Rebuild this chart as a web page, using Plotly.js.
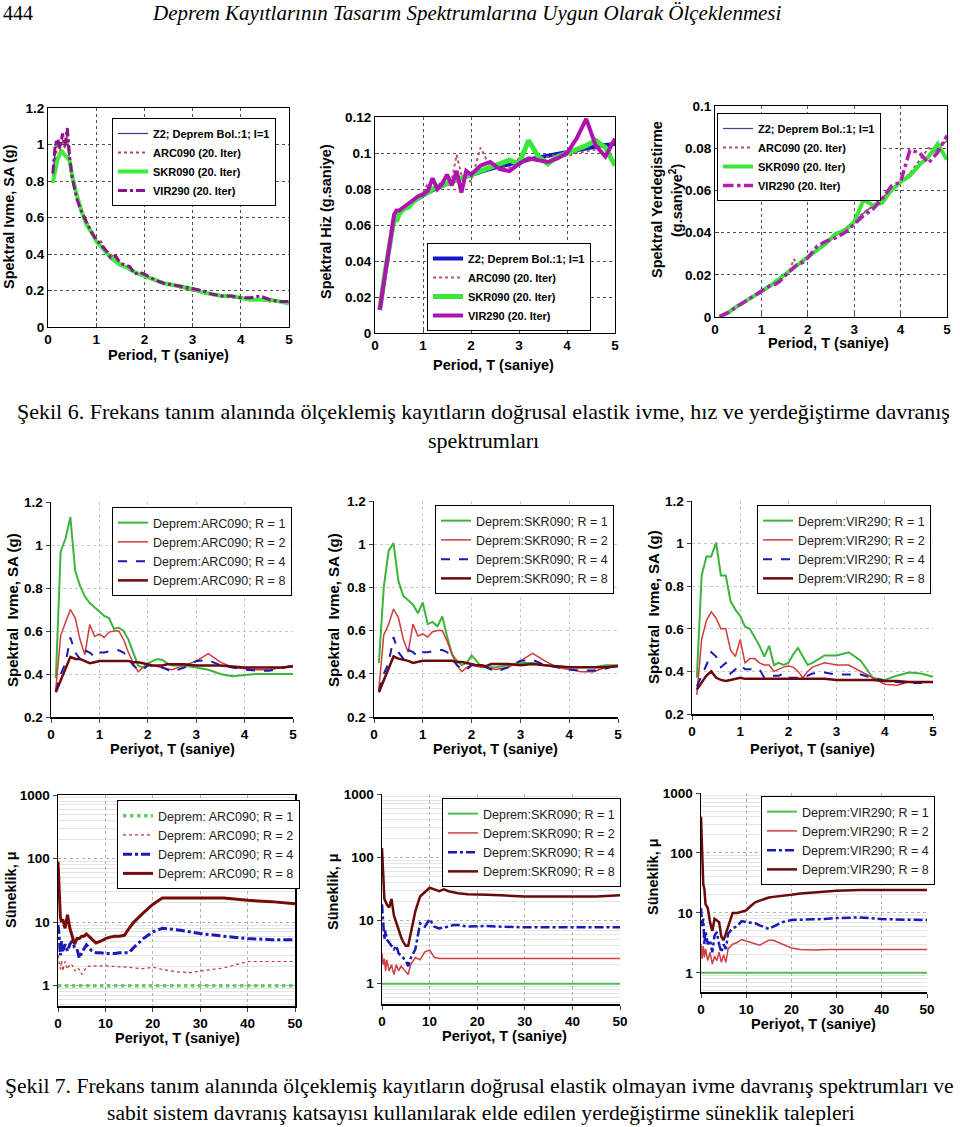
<!DOCTYPE html>
<html><head><meta charset="utf-8">
<script src="https://cdn.plot.ly/plotly-3.0.1.min.js"></script>
<style>html,body{margin:0;padding:0;background:#fff}#chart{width:960px;height:1127px}</style>
</head><body><div id="chart"></div>
<script>
// ---------------- DATA ----------------
// Row 1: elastic spectra (Şekil 6)
const T_Z2 = [0.1,0.15,0.2,0.25,0.3,0.35,0.4,0.45,0.5,0.6,0.7,0.8,0.9,1.0,1.2,1.4,1.6,1.8,2.0,2.25,2.5,2.75,3.0,3.25,3.5,3.75,4.0,4.25,4.5,4.75,5.0];
const SA_Z2 = [0.80,1.00,1.00,1.00,1.00,1.00,1.00,0.910,0.837,0.723,0.639,0.574,0.523,0.480,0.415,0.367,0.330,0.300,0.276,0.251,0.231,0.214,0.199,0.187,0.176,0.167,0.158,0.151,0.144,0.138,0.132];
const SV_Z2 = [0.0127,0.0239,0.0318,0.0398,0.0477,0.0557,0.0637,0.0652,0.0666,0.0690,0.0712,0.0731,0.0749,0.0764,0.0793,0.0818,0.0840,0.0859,0.0879,0.0899,0.0919,0.0937,0.0950,0.0967,0.0980,0.0997,0.1006,0.1021,0.1031,0.1043,0.1050];
const SD_Z2 = [0.0002,0.0006,0.0010,0.0016,0.0023,0.0031,0.0041,0.0047,0.0053,0.0066,0.0079,0.0093,0.0107,0.0122,0.0151,0.0182,0.0214,0.0246,0.0280,0.0322,0.0366,0.0410,0.0454,0.0500,0.0546,0.0595,0.0640,0.0691,0.0739,0.0789,0.0836];

const T1 = [0.1,0.15,0.2,0.25,0.3,0.35,0.4,0.45,0.5,0.6,0.7,0.8,0.9,1.0,1.1,1.2,1.3,1.4,1.5,1.6,1.7,1.8,1.9,2.0,2.2,2.4,2.6,2.8,3.0,3.2,3.4,3.6,3.8,4.0,4.2,4.4,4.6,4.8,5.0];
const SA_ARC = [0.82,0.90,1.02,0.96,1.04,0.98,1.06,0.90,0.83,0.72,0.64,0.58,0.52,0.48,0.47,0.42,0.40,0.36,0.35,0.33,0.31,0.30,0.29,0.27,0.26,0.24,0.23,0.21,0.20,0.19,0.18,0.17,0.16,0.16,0.15,0.15,0.14,0.14,0.13];
const SA_SKR = [0.79,0.86,0.92,0.95,0.96,0.94,0.93,0.91,0.83,0.72,0.63,0.56,0.52,0.47,0.44,0.41,0.38,0.36,0.34,0.33,0.32,0.30,0.29,0.28,0.26,0.24,0.23,0.22,0.21,0.19,0.18,0.17,0.17,0.16,0.15,0.15,0.15,0.14,0.13];
const SA_VIR = [0.84,1.00,1.03,0.98,1.06,0.99,1.09,0.93,0.82,0.70,0.63,0.57,0.52,0.48,0.45,0.42,0.38,0.39,0.35,0.34,0.33,0.29,0.30,0.29,0.26,0.24,0.23,0.22,0.21,0.20,0.18,0.17,0.17,0.16,0.16,0.17,0.15,0.14,0.14];
const SV_ARC = [0.013,0.024,0.032,0.040,0.047,0.056,0.064,0.066,0.067,0.070,0.072,0.074,0.075,0.078,0.083,0.080,0.082,0.084,0.086,0.085,0.099,0.088,0.086,0.084,0.103,0.092,0.092,0.092,0.097,0.096,0.096,0.098,0.099,0.098,0.100,0.101,0.102,0.104,0.106];
const SV_SKR = [0.013,0.024,0.032,0.040,0.047,0.055,0.064,0.062,0.066,0.069,0.070,0.073,0.075,0.077,0.078,0.080,0.081,0.082,0.083,0.084,0.085,0.086,0.087,0.088,0.090,0.092,0.094,0.096,0.094,0.107,0.098,0.094,0.098,0.100,0.102,0.104,0.107,0.103,0.093];
const SV_VIR = [0.013,0.022,0.032,0.041,0.050,0.058,0.066,0.068,0.068,0.070,0.072,0.074,0.076,0.077,0.079,0.086,0.080,0.083,0.088,0.082,0.090,0.078,0.090,0.088,0.093,0.095,0.091,0.090,0.094,0.097,0.096,0.095,0.097,0.100,0.108,0.119,0.104,0.098,0.108];
const SD_ARC = [0.0002,0.0006,0.0010,0.0016,0.0023,0.0031,0.0042,0.0047,0.0053,0.0066,0.0080,0.0093,0.0107,0.0122,0.0137,0.0152,0.0166,0.0182,0.0199,0.0215,0.0275,0.0240,0.0258,0.0290,0.0310,0.0355,0.0385,0.0420,0.0450,0.0495,0.0525,0.0560,0.0600,0.0640,0.0680,0.0740,0.0800,0.0790,0.0850];
const SD_SKR = [0.0002,0.0006,0.0010,0.0016,0.0023,0.0031,0.0041,0.0047,0.0053,0.0066,0.0079,0.0093,0.0107,0.0121,0.0136,0.0150,0.0166,0.0182,0.0198,0.0214,0.0232,0.0250,0.0268,0.0285,0.0315,0.0350,0.0395,0.0410,0.0450,0.0555,0.0530,0.0540,0.0600,0.0640,0.0670,0.0720,0.0760,0.0820,0.0745];
const SD_VIR = [0.0002,0.0006,0.0011,0.0017,0.0024,0.0032,0.0043,0.0048,0.0054,0.0067,0.0080,0.0094,0.0108,0.0123,0.0136,0.0150,0.0155,0.0170,0.0195,0.0215,0.0235,0.0255,0.0260,0.0280,0.0335,0.0360,0.0375,0.0400,0.0440,0.0480,0.0510,0.0560,0.0620,0.0640,0.0790,0.0780,0.0730,0.0780,0.0860];

// Row 2: inelastic acceleration spectra (Şekil 7)
const T2 = [0.1,0.2,0.3,0.4,0.5,0.6,0.7,0.8,0.9,1.0,1.1,1.2,1.3,1.4,1.5,1.6,1.7,1.8,1.9,2.0,2.1,2.2,2.3,2.4,2.5,2.75,3.0,3.25,3.5,3.75,4.0,4.25,4.5,4.75,5.0];
const ARC_R1 = [0.38,0.97,1.03,1.13,0.88,0.81,0.76,0.73,0.71,0.69,0.67,0.66,0.61,0.615,0.60,0.56,0.50,0.44,0.43,0.45,0.46,0.47,0.465,0.45,0.44,0.44,0.43,0.42,0.40,0.39,0.395,0.40,0.40,0.40,0.40];
const ARC_R2 = [0.33,0.58,0.64,0.70,0.66,0.56,0.49,0.63,0.575,0.585,0.57,0.595,0.60,0.60,0.56,0.50,0.45,0.41,0.43,0.44,0.44,0.435,0.43,0.425,0.42,0.44,0.46,0.495,0.455,0.43,0.425,0.42,0.42,0.43,0.44];
const ARC_R4 = [0.32,0.40,0.45,0.57,0.50,0.47,0.51,0.50,0.48,0.50,0.50,0.505,0.51,0.51,0.50,0.47,0.44,0.42,0.42,0.44,0.44,0.435,0.43,0.42,0.41,0.43,0.46,0.465,0.44,0.43,0.42,0.415,0.415,0.425,0.44];
const ARC_R8 = [0.315,0.37,0.42,0.48,0.47,0.47,0.46,0.45,0.455,0.46,0.46,0.46,0.46,0.46,0.46,0.46,0.455,0.455,0.45,0.445,0.44,0.44,0.44,0.445,0.445,0.445,0.44,0.44,0.44,0.435,0.43,0.43,0.43,0.43,0.435];
const SKR_R1 = [0.45,0.80,0.97,1.005,0.83,0.76,0.74,0.72,0.68,0.73,0.63,0.64,0.62,0.665,0.57,0.49,0.46,0.44,0.45,0.485,0.46,0.43,0.43,0.43,0.43,0.44,0.45,0.45,0.44,0.435,0.43,0.43,0.43,0.44,0.44];
const SKR_R2 = [0.33,0.58,0.63,0.70,0.66,0.56,0.50,0.63,0.575,0.585,0.57,0.595,0.60,0.60,0.55,0.49,0.44,0.41,0.43,0.44,0.435,0.43,0.43,0.425,0.42,0.43,0.46,0.495,0.46,0.43,0.42,0.41,0.41,0.43,0.44];
const SKR_R4 = [0.32,0.40,0.45,0.57,0.50,0.47,0.51,0.50,0.48,0.50,0.50,0.505,0.51,0.51,0.50,0.47,0.44,0.42,0.42,0.44,0.44,0.435,0.43,0.42,0.41,0.43,0.46,0.465,0.44,0.43,0.42,0.415,0.415,0.425,0.44];
const SKR_R8 = [0.315,0.37,0.42,0.48,0.47,0.465,0.46,0.45,0.455,0.46,0.46,0.46,0.46,0.46,0.46,0.46,0.455,0.455,0.45,0.445,0.44,0.44,0.435,0.445,0.445,0.445,0.44,0.445,0.44,0.435,0.43,0.43,0.43,0.43,0.435];
const VIR_R1 = [0.37,0.85,0.94,0.94,1.005,0.85,0.85,0.73,0.69,0.66,0.61,0.60,0.56,0.52,0.47,0.52,0.43,0.44,0.43,0.44,0.48,0.51,0.47,0.43,0.44,0.475,0.475,0.49,0.45,0.37,0.36,0.38,0.395,0.39,0.375];
const VIR_R2 = [0.29,0.55,0.64,0.68,0.65,0.60,0.60,0.50,0.47,0.55,0.44,0.46,0.46,0.44,0.43,0.43,0.40,0.41,0.42,0.425,0.42,0.40,0.37,0.40,0.42,0.44,0.43,0.43,0.40,0.37,0.34,0.335,0.35,0.35,0.35];
const VIR_R4 = [0.33,0.38,0.43,0.49,0.47,0.42,0.44,0.39,0.41,0.43,0.41,0.41,0.41,0.41,0.37,0.38,0.38,0.38,0.39,0.37,0.37,0.37,0.37,0.38,0.39,0.395,0.385,0.385,0.385,0.37,0.355,0.35,0.345,0.345,0.35];
const VIR_R8 = [0.315,0.35,0.38,0.40,0.37,0.36,0.355,0.36,0.365,0.37,0.365,0.365,0.365,0.365,0.365,0.365,0.365,0.365,0.365,0.365,0.365,0.365,0.365,0.365,0.365,0.365,0.36,0.36,0.36,0.36,0.355,0.355,0.35,0.35,0.35];

// Row 3: ductility demands
const T3 = [0,0.25,0.5,0.75,1,1.5,2,2.5,3,3.5,4,4.5,5,5.5,6,7,8,9,10,11,12,13,14,15,16,18,20,22,25,28,30,35,40,45,50];
const T3_R1 = [0,50];
const MU_R1 = [1,1];
const MU_ARC_R2 = [3.0,2.2,1.8,2.5,1.7,2.4,1.8,2.2,2.1,1.7,1.9,1.8,1.5,1.7,2.0,2.05,2.05,2.1,2.1,2.05,2.0,2.0,1.95,1.95,1.9,1.85,1.95,1.8,1.65,1.6,1.7,1.9,2.4,2.4,2.4];
const MU_ARC_R4 = [9,6,3,5,3.5,4.5,3.5,4.5,5,4,3.8,2.7,3.3,3.8,4.4,3.6,3.3,3.3,3.2,3.2,3.2,3.3,3.3,3.3,4,5.5,7,8,7.6,7,6.6,6,5.5,5.3,5.3];
const MU_ARC_R8 = [90,25,12,10,11,8,13,8,6,4.5,5.5,5.5,6,6,6.5,5.5,4.7,5,5.5,5.8,6,6,6.2,8,10,14,19,24,24,24,24,24,22,21,19.5];
const MU_SKR_R2 = [3.0,2.0,2.5,1.6,2.4,1.6,2.0,1.4,2.0,1.6,1.9,1.7,1.5,1.4,2.0,2.6,2.4,3.2,3.4,2.6,2.5,2.5,2.5,2.5,2.5,2.5,2.5,2.5,2.5,2.5,2.5,2.5,2.5,2.5,2.5];
const MU_SKR_R4 = [18,8,5,7,5,4.5,4,3.5,4,3,2.8,2.5,2.3,1.9,2.5,3.5,9,8,10.5,8,7.5,7.8,8,8.5,8.5,8,8.2,8.2,8,7.8,7.8,7.8,7.8,7.8,7.8];
const MU_SKR_R8 = [140,40,22,20,18,16,22,12,9,7,5.5,4.5,4,4,6,14,24,28,33,31,29,31,29,28,27,26,26,25.5,25,24,24,24,24,24,25];
const MU_VIR_R2 = [3,1.7,2.8,1.8,2.5,1.6,2.2,1.4,1.9,1.6,2.2,1.5,2.0,1.5,2.5,3.0,3.2,3.6,3.4,3.2,3.0,2.9,3.2,3.5,3.5,3.0,2.6,2.45,2.4,2.45,2.45,2.45,2.45,2.45,2.45];
const MU_VIR_R4 = [12,6,8,3,5,3,3.5,2.2,4.2,4.8,3,2.2,3,2.5,4.5,5.5,6,7.3,7,6.8,6.7,6.2,5.8,5.4,5.9,7,7.6,7.6,7.8,8,8.2,8.4,7.9,7.7,7.6];
const MU_VIR_R8 = [400,60,30,25,14,12,7,5,8,7.5,7,4,3.5,4.5,6,10,10,10.5,11,13,15,16,17,18,18.5,19,20,21,22,23,23.5,24,24,24,24];

// ---------------- LAYOUT HELPERS ----------------
const W = 960, H = 1127;
const FONT = 'Liberation Sans, Arial, sans-serif';
const SERIF = 'Liberation Serif, Times New Roman, serif';
const fx = p => p / W;
const fy = p => 1 - p / H;
// plot boxes in pixels [left, right, top, bottom]
const BOX = [
  [48,289,108,327],[375,615,117,333],[715,947,106,317],
  [51,293,502,717],[374,618,501,717],[692,933,501,714],
  [58,295,795,1006],[382,620,794,1004],[701,927,793,992]
];

const traces = [];
function addLine(i, x, y, name, color, width, dash) {
  traces.push({
    type: 'scatter', mode: 'lines', x: x, y: y, name: name,
    xaxis: i === 1 ? 'x' : 'x' + i, yaxis: i === 1 ? 'y' : 'y' + i,
    legend: i === 1 ? 'legend' : 'legend' + i,
    line: {color: color, width: width, dash: dash || 'solid'},
    hoverinfo: 'skip'
  });
}

// Row 1
addLine(1, T_Z2, SA_Z2, 'Z2; Deprem Bol.:1; I=1', '#3a3a8c', 1.2);
addLine(1, T1, SA_ARC, 'ARC090 (20. Iter)', '#b04848', 2, 'dot');
addLine(1, T1, SA_SKR, 'SKR090 (20. Iter)', '#3bee3b', 4);
addLine(1, T1, SA_VIR, 'VIR290 (20. Iter)', '#8a128a', 3, 'dashdot');

addLine(2, T_Z2, SV_Z2, 'Z2; Deprem Bol.:1; I=1', '#1414c8', 4);
addLine(2, T1, SV_ARC, 'ARC090 (20. Iter)', '#b05a5a', 2, 'dot');
addLine(2, T1, SV_SKR, 'SKR090 (20. Iter)', '#3be63b', 5);
addLine(2, T1, SV_VIR, 'VIR290 (20. Iter)', '#b012b0', 4);

addLine(3, T_Z2, SD_Z2, 'Z2; Deprem Bol.:1; I=1', '#44447a', 1.2);
addLine(3, T1, SD_ARC, 'ARC090 (20. Iter)', '#b05050', 2, 'dot');
addLine(3, T1, SD_SKR, 'SKR090 (20. Iter)', '#3be63b', 4);
addLine(3, T1, SD_VIR, 'VIR290 (20. Iter)', '#b020b0', 3.5, 'dashdot');

// Row 2
const ROW2 = [
  [4, 'ARC090', ARC_R1, ARC_R2, ARC_R4, ARC_R8],
  [5, 'SKR090', SKR_R1, SKR_R2, SKR_R4, SKR_R8],
  [6, 'VIR290', VIR_R1, VIR_R2, VIR_R4, VIR_R8]
];
ROW2.forEach(([i, eq, r1, r2, r4, r8]) => {
  addLine(i, T2, r1, 'Deprem:' + eq + '; R = 1', '#3cb43c', 2);
  addLine(i, T2, r2, 'Deprem:' + eq + '; R = 2', '#d03c3c', 1.5);
  addLine(i, T2, r4, 'Deprem:' + eq + '; R = 4', '#1a1ab4', 2, 'dash');
  addLine(i, T2, r8, 'Deprem:' + eq + '; R = 8', '#6a0a0a', 2.5);
});

// Row 3
addLine(7, T3_R1, MU_R1, 'Deprem: ARC090; R = 1', '#66cc66', 3.5, 'dot');
addLine(7, T3, MU_ARC_R2, 'Deprem: ARC090; R = 2', '#c83232', 1.2, 'dot');
addLine(7, T3, MU_ARC_R4, 'Deprem: ARC090; R = 4', '#1a1ab4', 3, 'dashdot');
addLine(7, T3, MU_ARC_R8, 'Deprem: ARC090; R = 8', '#780a0a', 3);
const ROW3 = [
  [8, 'SKR090', MU_SKR_R2, MU_SKR_R4, MU_SKR_R8],
  [9, 'VIR290', MU_VIR_R2, MU_VIR_R4, MU_VIR_R8]
];
ROW3.forEach(([i, eq, r2, r4, r8]) => {
  addLine(i, T3_R1, MU_R1, 'Deprem:' + eq + '; R = 1', '#4cc04c', 2);
  addLine(i, T3, r2, 'Deprem:' + eq + '; R = 2', '#d04040', 1.5);
  addLine(i, T3, r4, 'Deprem:' + eq + '; R = 4', '#1a1ab4', 2.5, 'dashdot');
  addLine(i, T3, r8, 'Deprem:' + eq + '; R = 8', '#6a0a0a', 2.5);
});

// ---------------- AXES ----------------
const layout = {
  width: W, height: H, margin: {l: 0, r: 0, t: 0, b: 0},
  paper_bgcolor: '#fff', plot_bgcolor: '#fff', showlegend: true,
  font: {family: FONT, color: '#000'},
  annotations: [], shapes: []
};
const tickFont = {family: FONT, size: 13.5, color: '#000', weight: 'bold'};
function axes(i, xo, yo) {
  const b = BOX[i - 1];
  const xk = i === 1 ? 'xaxis' : 'xaxis' + i;
  const yk = i === 1 ? 'yaxis' : 'yaxis' + i;
  layout[xk] = Object.assign({
    domain: [fx(b[0]), fx(b[1])], anchor: i === 1 ? 'y' : 'y' + i,
    zeroline: false, showline: true, linecolor: '#000', tickfont: tickFont,
    fixedrange: true
  }, xo);
  layout[yk] = Object.assign({
    domain: [fy(b[3]), fy(b[2])], anchor: i === 1 ? 'x' : 'x' + i,
    zeroline: false, showline: true, linecolor: '#000', tickfont: tickFont,
    fixedrange: true
  }, yo);
}
const r1x = {range: [0, 5], dtick: 1, mirror: true, ticks: 'inside', ticklen: 4, gridcolor: '#555', griddash: 'dot', linewidth: 1};
axes(1, r1x, {range: [0, 1.2], dtick: 0.2, mirror: true, ticks: 'inside', ticklen: 4, gridcolor: '#555', griddash: 'dot'});
axes(2, r1x, {range: [0, 0.12], dtick: 0.02, mirror: true, ticks: 'inside', ticklen: 4, gridcolor: '#555', griddash: 'dot'});
axes(3, r1x, {range: [0, 0.1], dtick: 0.02, mirror: true, ticks: 'inside', ticklen: 4, gridcolor: '#555', griddash: 'dot'});
const r2x = {range: [0, 5], dtick: 1, ticks: 'outside', ticklen: 4, gridcolor: '#c8c8c8', griddash: 'dot', linewidth: 1.5};
const r2y = {range: [0.2, 1.2], dtick: 0.2, ticks: 'outside', ticklen: 4, gridcolor: '#c8c8c8', griddash: 'dot', linewidth: 1.5};
[4, 5, 6].forEach(i => axes(i, r2x, r2y));
const MINOR_LOG = [0.5,0.6,0.7,0.8,0.9,2,3,4,5,6,7,8,9,20,30,40,50,60,70,80,90,200,300,400,500,600,700,800,900];
const r3x = {range: [0, 50], dtick: 10, ticks: 'outside', ticklen: 4, gridcolor: '#b0b0b0', griddash: 'dot', linewidth: 1.5};
const r3y = {type: 'log', range: [-0.32, 3], tickmode: 'array', tickvals: [1, 10, 100, 1000], ticktext: ['1', '10', '100', '1000'],
  ticks: 'outside', ticklen: 4, gridcolor: '#b0b0b0', griddash: 'dot', linewidth: 1.5,
  minor: {tickmode: 'array', tickvals: MINOR_LOG, showgrid: true, gridcolor: '#e4e4e4', griddash: 'solid', gridwidth: 1, ticks: ''}};
axes(7, Object.assign({}, r3x, {mirror: true}), Object.assign({}, r3y, {mirror: true}));
axes(8, r3x, r3y);
axes(9, r3x, r3y);

// ---------------- LEGENDS ----------------
const LEG = [[112,118],[427,243],[717,113],[112,507],[435,505],[757,505],[117,800],[442,798],[761,796]];
LEG.forEach((p, k) => {
  const i = k + 1;
  layout[i === 1 ? 'legend' : 'legend' + i] = {
    x: fx(p[0]), y: fy(p[1]), xanchor: 'left', yanchor: 'top',
    xref: 'paper', yref: 'paper',
    bgcolor: '#fff', bordercolor: '#000', borderwidth: 1,
    font: i <= 3 ? {family: FONT, size: 11, color: '#000', weight: 'bold'} : {family: FONT, size: 12.5, color: '#222'},
    tracegroupgap: 0
  };
});

// ---------------- TEXT ----------------
function txt(text, x, y, size, opts) {
  layout.annotations.push(Object.assign({
    text: text, x: fx(x), y: fy(y), xref: 'paper', yref: 'paper',
    showarrow: false, xanchor: 'center', yanchor: 'middle',
    font: {family: FONT, size: size, color: '#000', weight: 'bold'}
  }, opts || {}));
}
const serif = (s, it) => ({family: SERIF, size: s, color: '#000', style: it ? 'italic' : 'normal', weight: 'normal'});
// header & captions
txt('444', 1, 13, 20, {xanchor: 'left', font: serif(20)});
txt('Deprem Kayıtlarının Tasarım Spektrumlarına Uygun Olarak Ölçeklenmesi', 467, 13, 21, {font: serif(21, true)});
txt('Şekil 6. Frekans tanım alanında ölçeklemiş kayıtların doğrusal elastik ivme, hız ve yerdeğiştirme davranış', 483, 411, 22, {font: serif(22)});
txt('spektrumları', 483, 441, 22, {font: serif(22)});
txt('Şekil 7. Frekans tanım alanında ölçeklemiş kayıtların doğrusal elastik olmayan ivme davranış spektrumları ve', 479, 1086, 21.6, {font: serif(21.6)});
txt('sabit sistem davranış katsayısı kullanılarak elde edilen yerdeğiştirme süneklik talepleri', 481, 1113, 21.6, {font: serif(21.6)});

// axis titles
const rot = {textangle: -90};
const NB = '\u00a0';
txt('Spektral Ivme, SA (g)', 9, 217, 14.5, rot);
txt('Period, T (saniye)', 168, 355, 14.5);
txt('Spektral Hiz (g.saniye)', 326, 222, 14.5, rot);
txt('Period, T (saniye)', 493, 365, 14.5);
txt('Spektral Yerdegistirme', 657, 200, 14.5, rot);
txt('(g.saniye<sup>2</sup>)', 676, 200, 14.5, rot);
txt('Period, T (saniye)', 828, 343, 14.5);
txt('Spektral' + NB + NB + 'Ivme, SA (g)', 12, 610, 15, rot);
txt('Periyot, T (saniye)', 172, 749, 14.5);
txt('Spektral' + NB + NB + 'Ivme, SA (g)', 333, 610, 15, rot);
txt('Periyot, T (saniye)', 495, 749, 14.5);
txt('Spektral' + NB + NB + 'Ivme, SA (g)', 653, 607, 15, rot);
txt('Periyot, T (saniye)', 812, 749, 14.5);
txt('Süneklik, μ', 11, 890, 14.5, rot);
txt('Periyot, T (saniye)', 177, 1038, 14.5);
txt('Süneklik, μ', 333, 892, 14.5, rot);
txt('Periyot, T (saniye)', 505, 1036, 14.5);
txt('Süneklik, μ', 653, 877, 14.5, rot);
txt('Periyot, T (saniye)', 813, 1024, 14.5);

Plotly.newPlot('chart', traces, layout, {staticPlot: true, displayModeBar: false});
</script>
</body></html>
